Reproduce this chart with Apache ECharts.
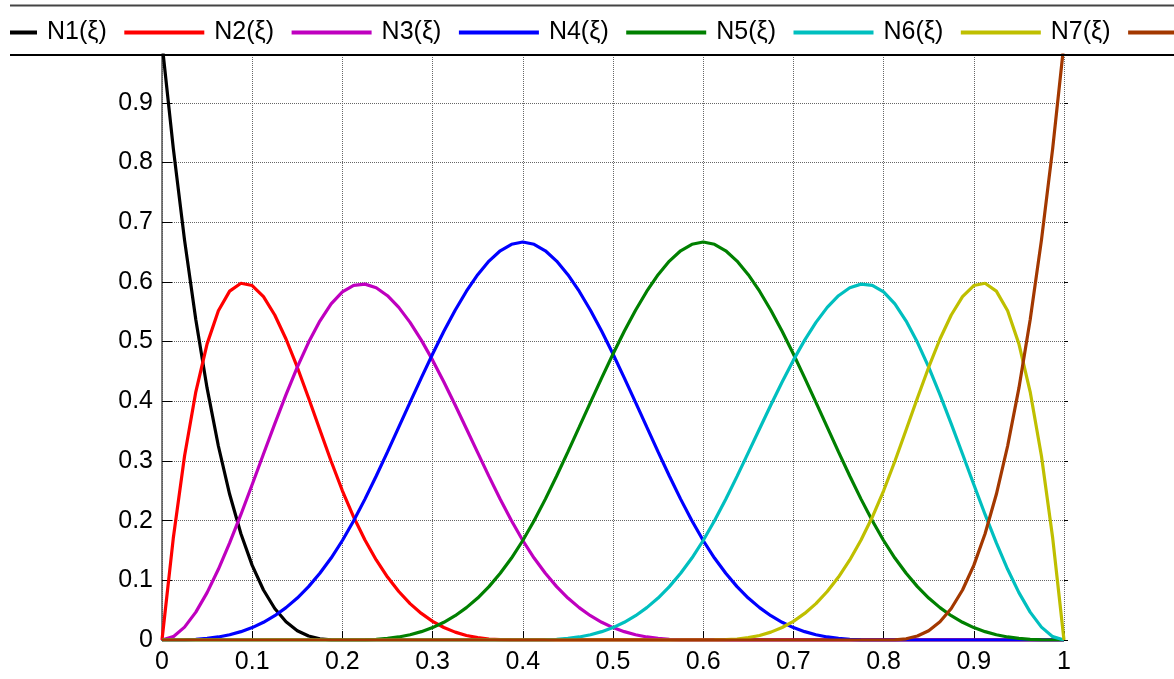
<!DOCTYPE html>
<html>
<head>
<meta charset="utf-8">
<script src="https://cdn.jsdelivr.net/npm/echarts@6/dist/echarts.min.js"></script>
<style>
html,body{margin:0;padding:0;background:#fff;}
#chart{width:1174px;height:679px;}
</style>
</head>
<body>
<div id="chart"></div>
<script>
var xs = [0,0.0125,0.025,0.0375,0.05,0.0625,0.075,0.0875,0.1,0.1125,0.125,0.1375,0.15,0.1625,0.175,0.1875,
  0.2,0.2125,0.225,0.2375,0.25,0.2625,0.275,0.2875,0.3,0.3125,0.325,0.3375,0.35,0.3625,0.375,0.3875,
  0.4,0.4125,0.425,0.4375,0.45,0.4625,0.475,0.4875,0.5,0.5125,0.525,0.5375,0.55,0.5625,0.575,0.5875,
  0.6,0.6125,0.625,0.6375,0.65,0.6625,0.675,0.6875,0.7,0.7125,0.725,0.7375,0.75,0.7625,0.775,0.7875,
  0.8,0.8125,0.825,0.8375,0.85,0.8625,0.875,0.8875,0.9,0.9125,0.925,0.9375,0.95,0.9625,0.975,0.9875,1];
var seriesNames = ['N1(ξ)','N2(ξ)','N3(ξ)','N4(ξ)','N5(ξ)','N6(ξ)','N7(ξ)','N8(ξ)'];
var seriesColors = ['#000000','#ff0000','#bf00bf','#0000ff','#008000','#00bfbf','#bfbf00','#a33800'];
var N1 = [1,0.8240,0.6699,0.5364,0.4219,0.3250,0.2441,0.1780,0.125,0.0837,0.0527,0.0305,0.0156,0.0066,0.0020,0.0002,
  0,0,0,0,0,0,0,0,0,0,0,0,0,0,0,0,
  0,0,0,0,0,0,0,0,0,0,0,0,0,0,0,0,
  0,0,0,0,0,0,0,0,0,0,0,0,0,0,0,0,
  0,0,0,0,0,0,0,0,0,0,0,0,0,0,0,0,0];
var N2 = [0,0.1703,0.3081,0.4158,0.4961,0.5515,0.5845,0.5977,0.5938,0.5751,0.5444,0.5042,0.4570,0.4055,0.3521,0.2994,
  0.25,0.2060,0.1675,0.1341,0.1055,0.0812,0.0610,0.0445,0.0313,0.0209,0.0132,0.0076,0.0039,0.0016,0.0005,0.0001,
  0,0,0,0,0,0,0,0,0,0,0,0,0,0,0,0,
  0,0,0,0,0,0,0,0,0,0,0,0,0,0,0,0,
  0,0,0,0,0,0,0,0,0,0,0,0,0,0,0,0,0];
var N3 = [0,0.0056,0.0216,0.0467,0.0794,0.1185,0.1626,0.2103,0.2604,0.3115,0.3621,0.4111,0.4570,0.4986,0.5343,0.5630,
  0.5833,0.5942,0.5962,0.5901,0.5768,0.5572,0.5321,0.5023,0.4688,0.4323,0.3937,0.3539,0.3138,0.2741,0.2358,0.1997,
  0.1667,0.1373,0.1117,0.0894,0.0703,0.0542,0.0407,0.0297,0.0208,0.0140,0.0088,0.0051,0.0026,0.0011,0.0003,0.0000,
  0,0,0,0,0,0,0,0,0,0,0,0,0,0,0,0,
  0,0,0,0,0,0,0,0,0,0,0,0,0,0,0,0,0];
var N4 = [0,0.0000,0.0003,0.0011,0.0026,0.0051,0.0088,0.0140,0.0208,0.0297,0.0407,0.0542,0.0703,0.0894,0.1117,0.1373,
  0.1667,0.1997,0.2360,0.2747,0.3151,0.3565,0.3981,0.4392,0.4792,0.5171,0.5524,0.5843,0.6120,0.6348,0.6520,0.6629,
  0.6667,0.6629,0.6520,0.6348,0.6120,0.5843,0.5524,0.5171,0.4792,0.4392,0.3981,0.3565,0.3151,0.2747,0.2360,0.1997,
  0.1667,0.1373,0.1117,0.0894,0.0703,0.0542,0.0407,0.0297,0.0208,0.0140,0.0088,0.0051,0.0026,0.0011,0.0003,0.0000,
  0,0,0,0,0,0,0,0,0,0,0,0,0,0,0,0,0];
var N5 = [0,0,0,0,0,0,0,0,0,0,0,0,0,0,0,0,
  0,0.0000,0.0003,0.0011,0.0026,0.0051,0.0088,0.0140,0.0208,0.0297,0.0407,0.0542,0.0703,0.0894,0.1117,0.1373,
  0.1667,0.1997,0.2360,0.2747,0.3151,0.3565,0.3981,0.4392,0.4792,0.5171,0.5524,0.5843,0.6120,0.6348,0.6520,0.6629,
  0.6667,0.6629,0.6520,0.6348,0.6120,0.5843,0.5524,0.5171,0.4792,0.4392,0.3981,0.3565,0.3151,0.2747,0.2360,0.1997,
  0.1667,0.1373,0.1117,0.0894,0.0703,0.0542,0.0407,0.0297,0.0208,0.0140,0.0088,0.0051,0.0026,0.0011,0.0003,0.0000,0];
var N6 = [0,0,0,0,0,0,0,0,0,0,0,0,0,0,0,0,
  0,0,0,0,0,0,0,0,0,0,0,0,0,0,0,0,
  0,0.0000,0.0003,0.0011,0.0026,0.0051,0.0088,0.0140,0.0208,0.0297,0.0407,0.0542,0.0703,0.0894,0.1117,0.1373,
  0.1667,0.1997,0.2358,0.2741,0.3138,0.3539,0.3937,0.4323,0.4688,0.5023,0.5321,0.5572,0.5768,0.5901,0.5962,0.5942,
  0.5833,0.5630,0.5343,0.4986,0.4570,0.4111,0.3621,0.3115,0.2604,0.2103,0.1626,0.1185,0.0794,0.0467,0.0216,0.0056,0];
var N7 = [0,0,0,0,0,0,0,0,0,0,0,0,0,0,0,0,
  0,0,0,0,0,0,0,0,0,0,0,0,0,0,0,0,
  0,0,0,0,0,0,0,0,0,0,0,0,0,0,0,0,
  0,0.0001,0.0005,0.0016,0.0039,0.0076,0.0132,0.0209,0.0313,0.0445,0.0610,0.0812,0.1055,0.1341,0.1675,0.2060,
  0.25,0.2994,0.3521,0.4055,0.4570,0.5042,0.5444,0.5751,0.5938,0.5977,0.5845,0.5515,0.4961,0.4158,0.3081,0.1703,0];
var N8 = [0,0,0,0,0,0,0,0,0,0,0,0,0,0,0,0,
  0,0,0,0,0,0,0,0,0,0,0,0,0,0,0,0,
  0,0,0,0,0,0,0,0,0,0,0,0,0,0,0,0,
  0,0,0,0,0,0,0,0,0,0,0,0,0,0,0,0,
  0,0.0002,0.0020,0.0066,0.0156,0.0305,0.0527,0.0837,0.125,0.1780,0.2441,0.3250,0.4219,0.5364,0.6699,0.8240,1];
var allValues = [N1,N2,N3,N4,N5,N6,N7,N8];

var FONT = 'Liberation Sans, Arial, sans-serif';
var chart = echarts.init(document.getElementById('chart'), null, {renderer:'canvas'});
var series = allValues.map(function(vals, i){
  return {
    name: seriesNames[i], type: 'line', symbol: 'none', smooth: false,
    data: xs.map(function(x, j){ return [x, vals[j]]; }),
    lineStyle: {color: seriesColors[i], width: 3.2},
    itemStyle: {color: seriesColors[i]},
    clip: true, animation: false
  };
});
chart.setOption({
  animation: false,
  backgroundColor: '#ffffff',
  legend: {
    left: -48, top: 15, width: 1600, itemWidth: 80, itemHeight: 4, itemGap: 17.5,
    icon: 'rect',
    data: seriesNames,
    textStyle: {fontFamily: FONT, fontSize: 25, color: '#000', padding: [0,0,0,5]},
    selectedMode: false
  },
  grid: {left: 162, right: 110, top: 55, bottom: 39, containLabel: false},
  xAxis: {
    type: 'value', min: 0, max: 1, interval: 0.1,
    axisLine: {show: true, lineStyle: {color: '#000', width: 1}},
    axisTick: {show: true, inside: true, length: 9, lineStyle: {color: '#000'}},
    axisLabel: {fontFamily: FONT, fontSize: 25, color: '#000', margin: 10},
    splitLine: {show: true, lineStyle: {type: 'dotted', color: '#666', width: 1}}
  },
  yAxis: [{
    type: 'value', min: 0, max: 0.98, interval: 0.1,
    axisLine: {show: true, lineStyle: {color: '#555', width: 1.5}},
    axisTick: {show: true, inside: true, length: 10, lineStyle: {color: '#000'}},
    axisLabel: {fontFamily: FONT, fontSize: 25, color: '#000', margin: 9, showMaxLabel: false},
    splitLine: {show: true, lineStyle: {type: 'dotted', color: '#666', width: 1}}
  },{
    type: 'value', min: 0, max: 0.98, interval: 0.1, position: 'right',
    axisLine: {show: false},
    axisTick: {show: true, inside: false, length: 4, lineStyle: {color: '#000'}},
    axisLabel: {show: false},
    splitLine: {show: false}
  }],
  graphic: [
    {type: 'rect', z: 100, shape: {x: 0, y: 0, width: 10, height: 54}, style: {fill: '#fff'}},
    {type: 'line', z: 101, shape: {x1: 10, y1: 5.5, x2: 1174, y2: 5.5}, style: {stroke: '#444', lineWidth: 2}},
    {type: 'line', z: 101, shape: {x1: 10, y1: 55, x2: 1174, y2: 55}, style: {stroke: '#000', lineWidth: 2}}
  ],
  series: series
});
</script>
</body>
</html>
